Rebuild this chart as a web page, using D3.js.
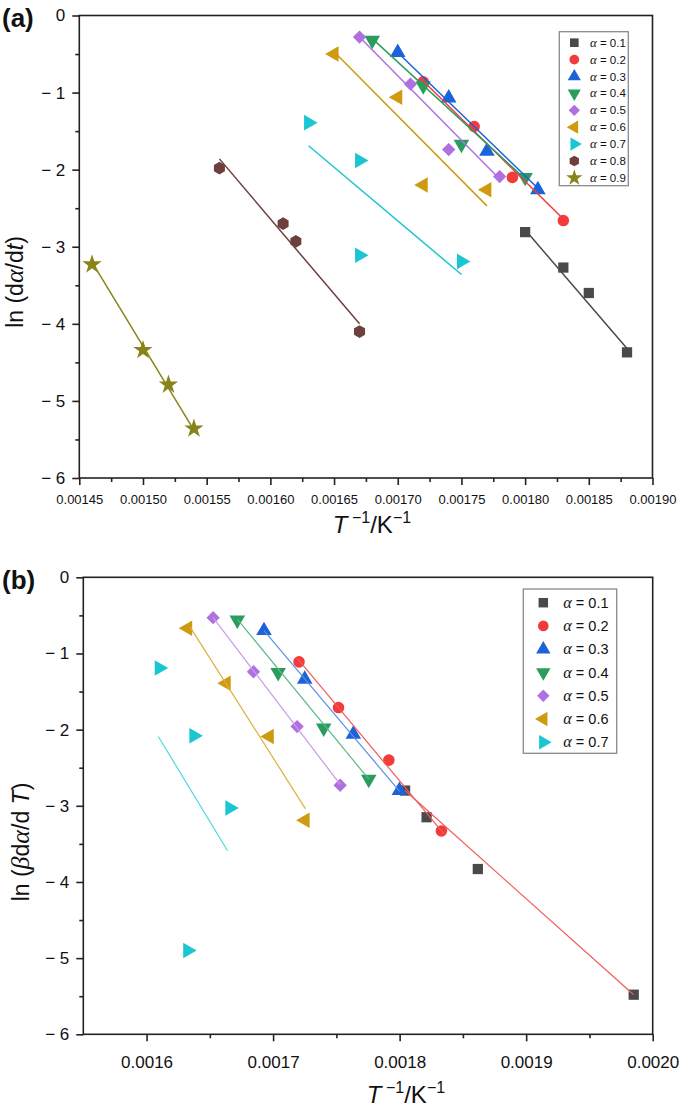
<!DOCTYPE html>
<html><head><meta charset="utf-8">
<script src="https://cdn.jsdelivr.net/npm/d3@7"></script>
<style>
body{margin:0;background:#fff}
svg{display:block}
text{font-family:"Liberation Sans",Arial,Helvetica,sans-serif;fill:#111}
</style>
</head><body>
<svg id="c" width="685" height="1110"></svg>
<script>
// ---------------- DATA ----------------
const alphaA = ["0.1","0.2","0.3","0.4","0.5","0.6","0.7","0.8","0.9"];
const alphaB = ["0.1","0.2","0.3","0.4","0.5","0.6","0.7"];

// Panel (a): x = 1/T, y = ln(dα/dt)
const aX = [
  [0.00180,0.00183,0.00185,0.00188],
  [0.00172,0.00176,0.00179,0.00183],
  [0.00170,0.00174,0.00177,0.00181],
  [0.00168,0.00172,0.00175,0.00180],
  [0.00167,0.00171,0.00174,0.00178],
  [0.00165,0.00170,0.00172,0.00177],
  [0.00163,0.00167,0.00167,0.00175],
  [0.00156,0.00161,0.00162,0.00167],
  [0.00146,0.00150,0.00152,0.00154]
];
const aY = [
  [-2.81,-3.27,-3.60,-4.37],
  [-0.86,-1.44,-2.10,-2.66],
  [-0.48,-1.07,-1.76,-2.26],
  [-0.32,-0.91,-1.67,-2.10],
  [-0.28,-0.89,-1.74,-2.09],
  [-0.50,-1.06,-2.20,-2.26],
  [-1.39,-1.88,-3.11,-3.19],
  [-1.98,-2.70,-2.93,-4.10],
  [-3.23,-4.34,-4.79,-5.36]
];
const aFitX = [
  [0.00180,0.00188],[0.00172,0.00183],[0.00170,0.00181],[0.00168,0.00180],
  [0.00167,0.00178],[0.00165,0.00177],[0.00163,0.00175],[0.00156,0.00167],[0.00146,0.00154]
];
const aFitY = [
  [-2.78,-4.32],[-0.85,-2.64],[-0.48,-2.24],[-0.30,-2.12],
  [-0.28,-2.12],[-0.47,-2.47],[-1.69,-3.36],[-1.86,-4.00],[-3.20,-5.38]
];

// Panel (b): x = 1/T, y = ln(β dα/dT)
const bX = [
  [0.0018043,0.0018213,0.0018618,0.0019850],
  [0.0017205,0.0017517,0.0017915,0.0018330],
  [0.0016928,0.0017250,0.0017634,0.0017998],
  [0.0016717,0.0017040,0.0017400,0.0017756],
  [0.0016526,0.0016845,0.0017190,0.0017530],
  [0.0016325,0.0016630,0.0016970,0.0017253],
  [0.0016100,0.0016374,0.0016658,0.0016325]
];
const bY = [
  [-2.80,-3.15,-3.83,-5.48],
  [-1.11,-1.71,-2.40,-3.33],
  [-0.70,-1.34,-2.06,-2.80],
  [-0.56,-1.25,-1.98,-2.65],
  [-0.53,-1.24,-1.96,-2.73],
  [-0.67,-1.39,-2.09,-3.19],
  [-1.19,-2.08,-3.03,-4.90]
];
const bFitX = [
  [0.0018043,0.0019850],[0.0017190,0.0018350],[0.0016928,0.0018000],[0.0016717,0.0017756],
  [0.0016526,0.0017530],[0.0016343,0.0017256],[0.0016093,0.0016640]
];
const bFitY = [
  [-2.80,-5.48],[-1.06,-3.37],[-0.70,-2.81],[-0.55,-2.65],
  [-0.53,-2.72],[-0.65,-3.04],[-2.09,-3.59]
];

// ticks
const aXTicks = [0.00145,0.00150,0.00155,0.00160,0.00165,0.00170,0.00175,0.00180,0.00185,0.00190];
const aXTickLabels = ["0.00145","0.00150","0.00155","0.00160","0.00165","0.00170","0.00175","0.00180","0.00185","0.00190"];
const aXMinor = [0.001475,0.001525,0.001575,0.001625,0.001675,0.001725,0.001775,0.001825,0.001875];
const bXTicks = [0.0016,0.0017,0.0018,0.0019,0.0020];
const bXTickLabels = ["0.0016","0.0017","0.0018","0.0019","0.0020"];
const bXMinor = [0.00165,0.00175,0.00185,0.00195];
const yTicks = [0,-1,-2,-3,-4,-5,-6];
const yTickLabels = ["0","\u2212 1","\u2212 2","\u2212 3","\u2212 4","\u2212 5","\u2212 6"];
const yMinor = [-0.5,-1.5,-2.5,-3.5,-4.5,-5.5];

// ---------------- STYLE ----------------
const colors = ["#4a4a4a","#f23b3b","#1c62d8","#2a9d5e","#b070e0","#d09a10","#1bc6d2","#6d403d","#87841a"];
const bLineColors = ["#f25a5a","#f25a5a","#5b8fe6","#5cb887","#c79be9","#dcb040","#52d6de"];

const hexagon = {draw(ctx,size){const r=Math.sqrt(2*size/(3*Math.sqrt(3)));for(let i=0;i<6;i++){const a=Math.PI/3*i-Math.PI/2;const x=r*Math.cos(a),y=r*Math.sin(a);i?ctx.lineTo(x,y):ctx.moveTo(x,y);}ctx.closePath();}};
const shapes = [
  {t:d3.symbolSquare,r:0,s:1.0},{t:d3.symbolCircle,r:0,s:1.0},{t:d3.symbolTriangle,r:0,s:1.0},
  {t:d3.symbolTriangle,r:180,s:1.0},{t:d3.symbolSquare,r:45,s:0.85},{t:d3.symbolTriangle,r:-90,s:1.0},
  {t:d3.symbolTriangle,r:90,s:1.0},{t:hexagon,r:0,s:1.0},{t:d3.symbolStar,r:0,s:1.1}
];

const svg = d3.select("#c");

function symPath(i,size){return d3.symbol().type(shapes[i].t).size(size*shapes[i].s)();}

function panel(o){
  const g = svg.append("g");
  const x = d3.scaleLinear().domain(o.xDomain).range(o.xRange);
  const y = d3.scaleLinear().domain([-6,0]).range(o.yRange);
  g.append("rect").attr("x",o.xRange[0]).attr("y",o.yRange[1])
    .attr("width",o.xRange[1]-o.xRange[0]).attr("height",o.yRange[0]-o.yRange[1])
    .attr("fill","none").attr("stroke","#222").attr("stroke-width",1.6);
  const xa = g.append("g").attr("transform",`translate(0,${o.yRange[0]})`)
    .call(d3.axisBottom(x).tickValues(o.xTicks).tickFormat((d,i)=>o.xLabels[i]).tickSize(7).tickPadding(o.xPad));
  xa.selectAll("text").attr("font-size",o.xFont).attr("fill","#111");
  const xm = g.append("g").attr("transform",`translate(0,${o.yRange[0]})`)
    .call(d3.axisBottom(x).tickValues(o.xMinor).tickFormat("").tickSize(4));
  const ya = g.append("g").attr("transform",`translate(${o.xRange[0]},0)`)
    .call(d3.axisLeft(y).tickValues(yTicks).tickFormat((d,i)=>yTickLabels[i]).tickSize(7).tickPadding(o.yPad));
  ya.selectAll("text").attr("font-size",17).attr("fill","#111");
  const ym = g.append("g").attr("transform",`translate(${o.xRange[0]},0)`)
    .call(d3.axisLeft(y).tickValues(yMinor).tickFormat("").tickSize(4));
  [xa,xm,ya,ym].forEach(a=>{a.select(".domain").remove();a.selectAll("line").attr("stroke","#222").attr("stroke-width",1.6);});

  o.xs.forEach((xs,i)=>{
    g.append("g").selectAll("path").data(xs.map((v,j)=>[v,o.ys[i][j]])).join("path")
      .attr("d",symPath(i,o.msize))
      .attr("transform",d=>`translate(${x(d[0])},${y(d[1])}) rotate(${shapes[i].r})`)
      .attr("fill",colors[i]);
  });
  const line = d3.line().x(d=>x(d[0])).y(d=>y(d[1]));
  o.fx.forEach((fx,i)=>{
    g.append("path").datum(fx.map((v,j)=>[v,o.fy[i][j]]))
      .attr("d",line).attr("fill","none")
      .attr("stroke",o.lineColors[i]).attr("stroke-width",o.lw);
  });

  const L = o.leg;
  g.append("rect").attr("x",L.x0).attr("y",L.y0).attr("width",L.x1-L.x0).attr("height",L.y1-L.y0)
    .attr("fill","#fff").attr("stroke","#8a8a8a").attr("stroke-width",1.3);
  o.labels.forEach((lab,i)=>{
    const cy = L.first + i*L.step;
    g.append("path").attr("d",symPath(i,L.msize))
      .attr("transform",`translate(${L.mx},${cy}) rotate(${shapes[i].r})`).attr("fill",colors[i]);
    const t = g.append("text").attr("x",L.tx).attr("y",cy).attr("dy","0.35em").attr("font-size",L.font);
    t.append("tspan").attr("font-family","'Liberation Serif','Times New Roman',serif").attr("font-style","italic").attr("font-size",L.font*1.12).text("α");
    t.append("tspan").text(" = "+lab);
  });

  g.append("text").attr("x",2).attr("y",o.tagY).attr("font-size",26).attr("font-weight","bold").text(o.tag);

  const xt = g.append("text").attr("x",o.xtX).attr("y",o.xtY).attr("text-anchor","middle").attr("font-size",24);
  xt.append("tspan").attr("font-style","italic").text("T");
  xt.append("tspan").attr("dy",-10).attr("font-size",16).text(" \u22121");
  xt.append("tspan").attr("dy",10).text("/K");
  xt.append("tspan").attr("dy",-10).attr("font-size",16).text("\u22121");

  const yt = g.append("text").attr("transform",`translate(${o.ytX},${o.ytY}) rotate(-90)`)
    .attr("text-anchor","middle").attr("font-size",23);
  o.ytParts.forEach(p=>{
    const s = yt.append("tspan").text(p[0]);
    if(p[1]==="g") s.attr("font-family","'Liberation Serif','Times New Roman',serif").attr("font-style","italic").attr("font-size",26);
    if(p[1]==="i") s.attr("font-style","italic");
  });
}

panel({
  xDomain:[0.00145,0.00190], xRange:[79.3,652.5], yRange:[478,15.5],
  xTicks:aXTicks, xLabels:aXTickLabels, xMinor:aXMinor, xPad:10, xFont:13, yPad:7,
  xs:aX, ys:aY, fx:aFitX, fy:aFitY, lineColors:colors, lw:1.5, msize:105,
  labels:alphaA,
  leg:{x0:559.3,x1:628.3,y0:31.7,y1:185.7,first:42.7,step:16.9,mx:574.3,tx:590,font:11.5,msize:75},
  tag:"(a)", tagY:27, xtX:372, xtY:533, ytX:23, ytY:282,
  ytParts:[["ln (d",""],["α","g"],["/d",""],["t","i"],[")",""]]
});

panel({
  xDomain:[0.00155,0.00200], xRange:[83.3,652.7], yRange:[1034.3,577.3],
  xTicks:bXTicks, xLabels:bXTickLabels, xMinor:bXMinor, xPad:14.5, xFont:17, yPad:7,
  xs:bX, ys:bY, fx:bFitX, fy:bFitY, lineColors:bLineColors, lw:1.2, msize:105,
  labels:alphaB,
  leg:{x0:523.3,x1:616.7,y0:589,y1:753.3,first:602.7,step:23.27,mx:543.3,tx:563.3,font:14.5,msize:90},
  tag:"(b)", tagY:589, xtX:406, xtY:1103, ytX:29, ytY:842,
  ytParts:[["ln (",""],["β","g"],["d",""],["α","g"],["/d ",""],["T","i"],[")",""]]
});
</script>
</body></html>
